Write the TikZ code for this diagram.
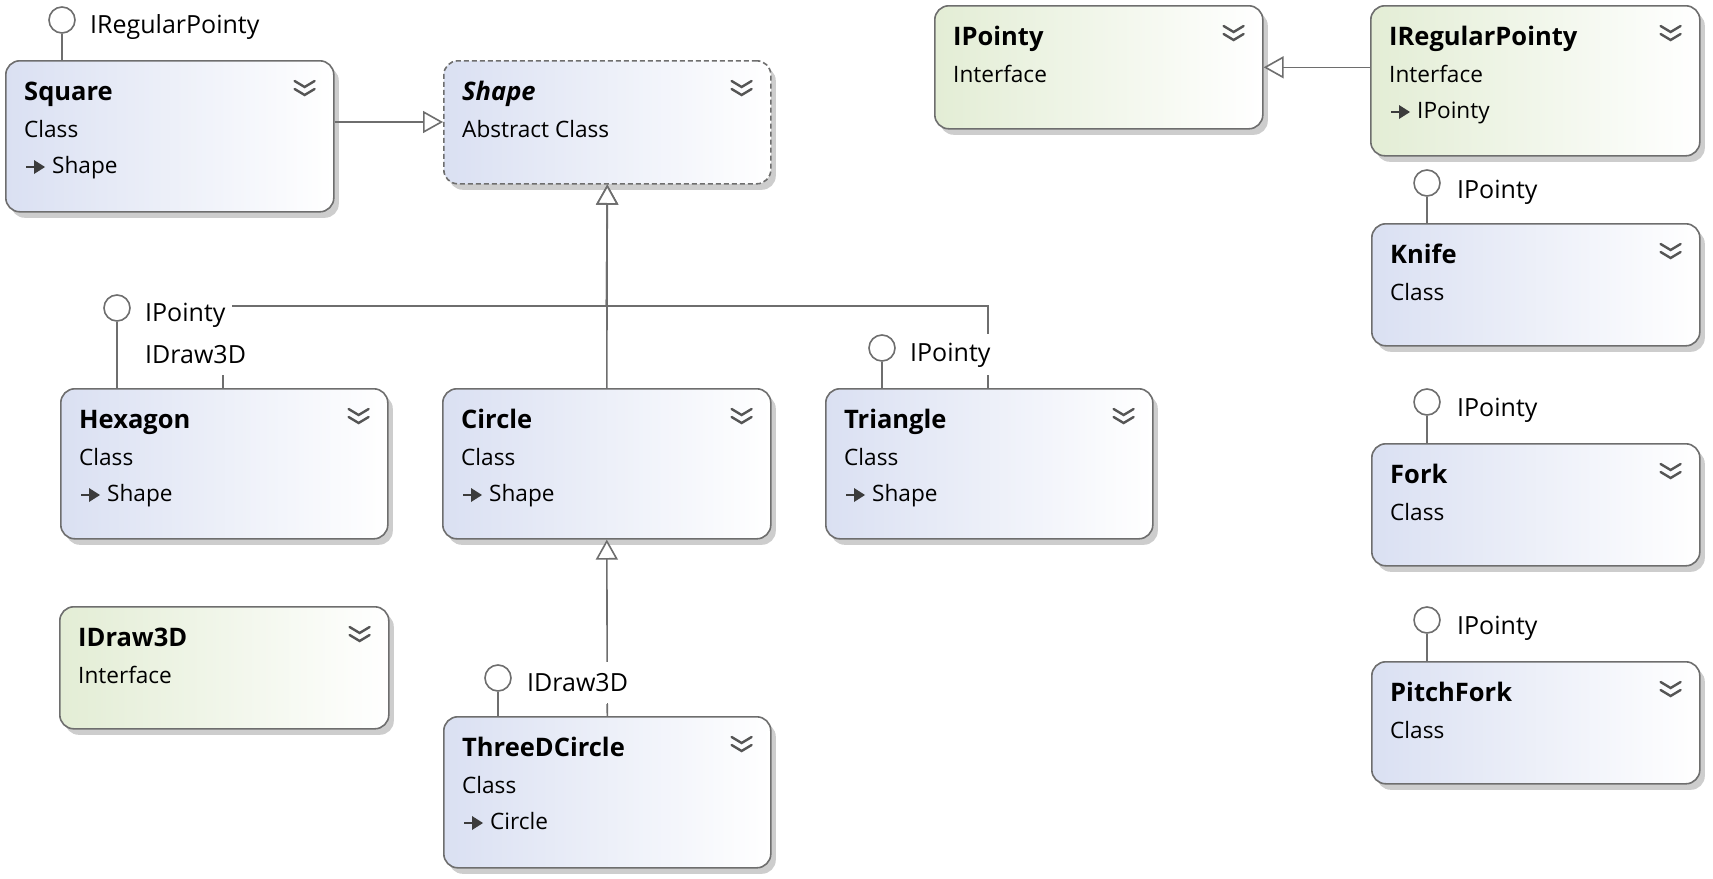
\documentclass[tikz,border=0pt]{standalone}
\usepackage{fontspec}
\setmainfont{Open Sans}
\usetikzlibrary{shadows,arrows.meta}

\definecolor{edgegray}{HTML}{6E6E6E}
\definecolor{clsfill}{HTML}{DAE0F2}
\definecolor{iffill}{HTML}{E3EDD5}
\definecolor{chevgray}{HTML}{555555}
\definecolor{icongray}{HTML}{3C3C3C}
\definecolor{shadowgray}{HTML}{CDCDCD}

\tikzset{
  typebox/.style={draw=edgegray, line width=1.6pt, rounded corners=14pt,
    anchor=north west, inner sep=0pt,
    drop shadow={shadow xshift=5pt, shadow yshift=-6pt, fill=shadowgray, opacity=1}},
  classbox/.style={typebox, left color=clsfill, right color=white},
  ifacebox/.style={typebox, left color=iffill, right color=white},
  abstractbox/.style={classbox, dashed, dash pattern=on 5pt off 3pt},
  titletext/.style={anchor=base west, inner sep=0pt, font=\fontsize{25.5}{30}\selectfont\bfseries},
  kindtext/.style={anchor=base west, inner sep=0pt, font=\fontsize{22.6}{27}\selectfont},
  chevron/.style={draw=chevgray, line width=2.4pt, line cap=round, line join=miter},
  rel/.style={draw=edgegray, line width=1.6pt,
    -{Triangle[length=20pt, width=22pt, fill=white, line width=1.6pt]}},
  stem/.style={draw=edgegray, line width=1.6pt},
  lolli/.style={circle, draw=edgegray, line width=1.6pt, fill=white, minimum size=26pt, inner sep=0pt},
  iflabel/.style={anchor=west, fill=white, inner xsep=7pt, inner ysep=0pt, minimum height=42pt,
    font=\fontsize{25}{30}\selectfont},
}

% collapse chevron in the top right corner of a box
\newcommand\boxchevron[1]{%
  \draw[chevron] ([xshift=-40pt,yshift=-21pt]#1.north east) -- ++(10,6) -- ++(10,-6);
  \draw[chevron] ([xshift=-40pt,yshift=-29pt]#1.north east) -- ++(10,6) -- ++(10,-6);
}
% title and kind lines of a box
\newcommand\boxtext[3]{%
  \node[titletext] at ([xshift=19pt,yshift=-40pt]#1.north west) {#2};
  \node[kindtext] at ([xshift=19pt,yshift=-77pt]#1.north west) {#3};
}
% base type line with the small inheritance icon
\newcommand\basetype[2]{%
  \draw[icongray, line width=2.8pt] ([xshift=21pt,yshift=-107pt]#1.north west) -- ++(10,0);
  \fill[icongray] ([xshift=29pt,yshift=-100pt]#1.north west) -- ++(11,7) -- ++(-11,7) -- cycle;
  \node[kindtext] at ([xshift=47pt,yshift=-113pt]#1.north west) {#2};
}

\begin{document}
\begin{tikzpicture}[x=1pt,y=-1pt]
\fill[white] (0,0) rectangle (1713,878);
\useasboundingbox (0,0) rectangle (1713,878);

% ---- type boxes ----
\node[classbox, minimum width=328pt, minimum height=151pt] (square) at (5,60) {};
\node[abstractbox, minimum width=327pt, minimum height=123pt] (shape) at (443,60) {};
\node[ifacebox, minimum width=328pt, minimum height=123pt] (ipointy) at (934,5) {};
\node[ifacebox, minimum width=329pt, minimum height=150pt] (iregular) at (1370,5) {};
\node[classbox, minimum width=327pt, minimum height=150pt] (hexagon) at (60,388) {};
\node[classbox, minimum width=328pt, minimum height=150pt] (circle) at (442,388) {};
\node[classbox, minimum width=327pt, minimum height=150pt] (triangle) at (825,388) {};
\node[ifacebox, minimum width=329pt, minimum height=122pt] (idraw) at (59,606) {};
\node[classbox, minimum width=327pt, minimum height=151pt] (threed) at (443,716) {};
\node[classbox, minimum width=328pt, minimum height=122pt] (knife) at (1371,223) {};
\node[classbox, minimum width=328pt, minimum height=122pt] (fork) at (1371,443) {};
\node[classbox, minimum width=328pt, minimum height=122pt] (pitchfork) at (1371,661) {};

\boxtext{square}{Square}{Class}\basetype{square}{Shape}\boxchevron{square}
\boxtext{shape}{\itshape Shape}{Abstract Class}\boxchevron{shape}
\boxtext{ipointy}{IPointy}{Interface}\boxchevron{ipointy}
\boxtext{iregular}{IRegularPointy}{Interface}\basetype{iregular}{IPointy}\boxchevron{iregular}
\boxtext{hexagon}{Hexagon}{Class}\basetype{hexagon}{Shape}\boxchevron{hexagon}
\boxtext{circle}{Circle}{Class}\basetype{circle}{Shape}\boxchevron{circle}
\boxtext{triangle}{Triangle}{Class}\basetype{triangle}{Shape}\boxchevron{triangle}
\boxtext{idraw}{IDraw3D}{Interface}\boxchevron{idraw}
\boxtext{threed}{ThreeDCircle}{Class}\basetype{threed}{Circle}\boxchevron{threed}
\boxtext{knife}{Knife}{Class}\boxchevron{knife}
\boxtext{fork}{Fork}{Class}\boxchevron{fork}
\boxtext{pitchfork}{PitchFork}{Class}\boxchevron{pitchfork}

% ---- inheritance connectors ----
\coordinate (shapejoin) at (606.5,306);
\draw[rel] ([yshift=-62pt]square.north east) -- ([yshift=-62pt]square.north east -| shape.west);
\draw[rel] (iregular.west |- ipointy.east) -- (ipointy.east);
\draw[rel] (circle.north) -- (shape.south);
\draw[rel] ([xshift=163pt]hexagon.north west) |- (shapejoin) -- (shape.south);
\draw[rel] ([xshift=163pt]triangle.north west) |- (shapejoin) -- (shape.south);
\draw[rel] (threed.north) -- (circle.south);

% ---- implemented interfaces (lollipops) ----
\node[lolli] (lsquare) at (62,20) {};
\node[lolli] (lhexagon) at (117,308) {};
\node[lolli] (ltriangle) at (882,348) {};
\node[lolli] (lthreed) at (498,678) {};
\node[lolli] (lknife) at (1427,183) {};
\node[lolli] (lfork) at (1427,402) {};
\node[lolli] (lpitchfork) at (1427,620) {};
\foreach \l/\b in {lsquare/square, lhexagon/hexagon, ltriangle/triangle, lthreed/threed,
                   lknife/knife, lfork/fork, lpitchfork/pitchfork}
  \draw[stem] (\l) -- (\l |- \b.north);

\node[iflabel] at (83,27) {IRegularPointy};
\node[iflabel] at (138,315) {IPointy};
\node[iflabel] at (138,355) {IDraw3D};
\draw[stem] ([xshift=163pt]hexagon.north west) -- ++(0,-13);
\node[iflabel] at (903,355) {IPointy};
\draw[stem] ([xshift=163pt]triangle.north west) -- ++(0,-13);
\node[iflabel] at (520,683) {IDraw3D};
\draw[stem] (threed.north) -- ++(0,-13);
\node[iflabel] at (1450,192) {IPointy};
\node[iflabel] at (1450,410) {IPointy};
\node[iflabel] at (1450,628) {IPointy};
\end{tikzpicture}
\end{document}
